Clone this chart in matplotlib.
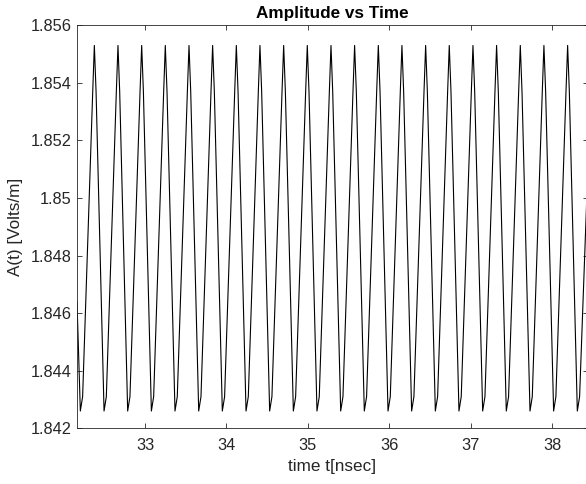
import matplotlib
matplotlib.use("Agg")
import matplotlib.pyplot as plt

plt.rcParams['font.family'] = ['Liberation Sans', 'DejaVu Sans']

# samples (time in ns, amplitude in V/m)
t = [32.165, 32.206, 32.234,
     32.358, 32.378, 32.399, 32.497, 32.525,
     32.648, 32.668, 32.689, 32.787, 32.815,
     32.939, 32.959, 32.980, 33.078, 33.106,
     33.229, 33.249, 33.270, 33.368, 33.396,
     33.520, 33.540, 33.561, 33.659, 33.687,
     33.810, 33.830, 33.851, 33.949, 33.977,
     34.101, 34.121, 34.142, 34.240, 34.268,
     34.391, 34.411, 34.432, 34.530, 34.558,
     34.682, 34.702, 34.723, 34.821, 34.849,
     34.972, 34.992, 35.013, 35.111, 35.139,
     35.263, 35.283, 35.304, 35.402, 35.430,
     35.553, 35.573, 35.594, 35.692, 35.720,
     35.844, 35.864, 35.885, 35.983, 36.011,
     36.134, 36.154, 36.175, 36.273, 36.301,
     36.425, 36.445, 36.466, 36.564, 36.592,
     36.715, 36.735, 36.756, 36.854, 36.882,
     37.006, 37.026, 37.047, 37.145, 37.173,
     37.296, 37.316, 37.337, 37.435, 37.463,
     37.587, 37.607, 37.628, 37.726, 37.754,
     37.877, 37.897, 37.918, 38.016, 38.044,
     38.168, 38.188, 38.209, 38.307, 38.335,
     38.432]
A = [1.8464, 1.8426, 1.8431,
     1.8537, 1.8553, 1.8537, 1.8426, 1.8431,
     1.8537, 1.8553, 1.8537, 1.8426, 1.8431,
     1.8537, 1.8553, 1.8537, 1.8426, 1.8431,
     1.8537, 1.8553, 1.8537, 1.8426, 1.8431,
     1.8537, 1.8553, 1.8537, 1.8426, 1.8431,
     1.8537, 1.8553, 1.8537, 1.8426, 1.8431,
     1.8537, 1.8553, 1.8537, 1.8426, 1.8431,
     1.8537, 1.8553, 1.8537, 1.8426, 1.8431,
     1.8537, 1.8553, 1.8537, 1.8426, 1.8431,
     1.8537, 1.8553, 1.8537, 1.8426, 1.8431,
     1.8537, 1.8553, 1.8537, 1.8426, 1.8431,
     1.8537, 1.8553, 1.8537, 1.8426, 1.8431,
     1.8537, 1.8553, 1.8537, 1.8426, 1.8431,
     1.8537, 1.8553, 1.8537, 1.8426, 1.8431,
     1.8537, 1.8553, 1.8537, 1.8426, 1.8431,
     1.8537, 1.8553, 1.8537, 1.8426, 1.8431,
     1.8537, 1.8553, 1.8537, 1.8426, 1.8431,
     1.8537, 1.8553, 1.8537, 1.8426, 1.8431,
     1.8537, 1.8553, 1.8537, 1.8426, 1.8431,
     1.8537, 1.8553, 1.8537, 1.8426, 1.8431,
     1.8537, 1.8553, 1.8537, 1.8426, 1.8431,
     1.8507]

xticks = [33, 34, 35, 36, 37, 38]
yticks = [1.842, 1.844, 1.846, 1.848, 1.85, 1.852, 1.854, 1.856]
ylabels = ["1.842", "1.844", "1.846", "1.848", "1.85", "1.852", "1.854", "1.856"]

grey = "#262626"

fig = plt.figure(figsize=(5.86, 4.84), dpi=100)
ax = fig.add_axes([77 / 586, 55.7 / 484, 510.5 / 586, 403 / 484])
ax.plot(t, A, color="black", lw=0.8)

ax.set_xlim(32.165, 38.432)
ax.set_ylim(1.842, 1.856)
ax.set_xticks(xticks)
ax.set_yticks(yticks)
ax.set_yticklabels(ylabels)

ax.tick_params(direction="in", top=True, right=True, length=3.6, width=0.6,
               colors=grey, labelsize=11.8)
ax.tick_params(axis="y", pad=4)
ax.tick_params(axis="x", pad=7)
for s in ax.spines.values():
    s.set_color(grey)
    s.set_linewidth(0.6)

ax.set_title("Amplitude vs Time", fontsize=12.3, fontweight="bold", color="black", pad=5)
ax.set_xlabel("time t[nsec]", fontsize=12.3, color=grey, labelpad=4)
ax.set_ylabel("A(t) [Volts/m]", fontsize=12.3, color=grey, labelpad=5)

fig.savefig("out.png", dpi=100)
